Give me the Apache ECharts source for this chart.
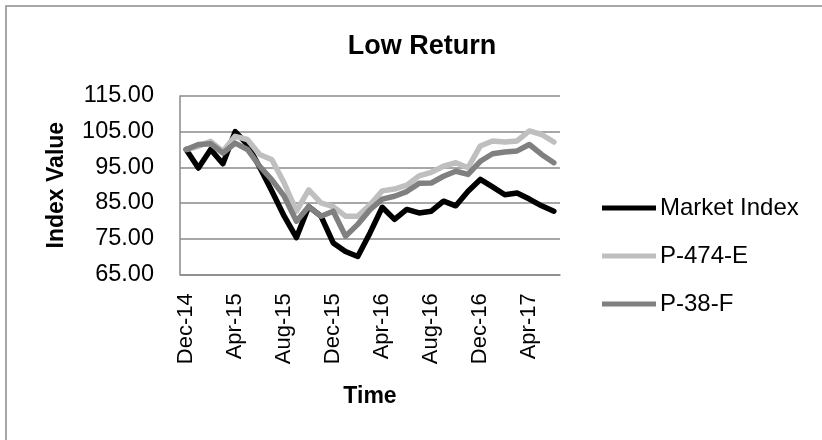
<!DOCTYPE html>
<html>
<head>
<meta charset="utf-8">
<script src="https://cdn.jsdelivr.net/npm/echarts@6/dist/echarts.min.js"></script>
<style>html,body{margin:0;padding:0;background:#fff;}#c{width:822px;height:440px;}</style>
</head>
<body>
<div id="c"></div>
<script>
var categories = ['Dec-14','Jan-15','Feb-15','Mar-15','Apr-15','May-15','Jun-15','Jul-15','Aug-15','Sep-15','Oct-15','Nov-15',
  'Dec-15','Jan-16','Feb-16','Mar-16','Apr-16','May-16','Jun-16','Jul-16','Aug-16','Sep-16','Oct-16','Nov-16',
  'Dec-16','Jan-17','Feb-17','Mar-17','Apr-17','May-17','Jun-17'];
var marketIndex = [100, 94.8, 100, 96, 105, 101.4, 95, 88.3, 81.3, 75.3, 84, 81.3,
  73.8, 71.4, 70, 76.6, 83.8, 80.4, 83.2, 82.2, 82.7, 85.5, 84.2, 88.3,
  91.6, 89.5, 87.3, 87.8, 86.1, 84.2, 82.7];
var p474E = [100, 100.9, 102.3, 99.5, 103.7, 102.8, 98.6, 97.1, 90.6, 82.7, 88.7, 85,
  84, 81.3, 81.3, 84.5, 88.4, 88.9, 90, 92.6, 93.6, 95.3, 96.3, 94.9,
  101, 102.4, 102.1, 102.4, 105.2, 104.2, 102.1];
var p38F = [100, 101.4, 101.6, 99, 101.8, 100, 95.3, 91.5, 86.9, 79.9, 84, 81.3,
  82.7, 75.7, 79, 83.1, 86.1, 86.9, 88.2, 90.5, 90.6, 92.5, 93.9, 93,
  96.7, 98.8, 99.3, 99.6, 101.4, 98.6, 96.3];
var yTicks = [65, 75, 85, 95, 105, 115];

var chart = echarts.init(document.getElementById('c'), null, {renderer: 'canvas'});
var font = 'Liberation Sans, Arial, sans-serif';
function line(name, data, color) {
  return {name: name, type: 'line', data: data, showSymbol: false, symbol: 'none', smooth: false,
    lineStyle: {color: color, width: 5.5, cap: 'round', join: 'round'}, itemStyle: {color: color}, animation: false};
}
chart.setOption({
  animation: false,
  graphic: [{type: 'rect', shape: {x: 6, y: 6, width: 900, height: 600}, style: {fill: 'none', stroke: '#8a8a8a', lineWidth: 1.5}, silent: true}],
  title: {text: 'Low Return', left: 417, top: 28, textAlign: 'center',
    textStyle: {fontFamily: font, fontWeight: 'bold', fontSize: 27, color: '#000'}},
  grid: {left: 180, right: 262, top: 96, bottom: 165.7, containLabel: false},
  legend: {orient: 'vertical', left: 597, top: 191, itemWidth: 54, itemHeight: 5, itemGap: 24, icon: 'rect',
    textStyle: {fontFamily: font, fontSize: 24, color: '#000', padding: [0,0,0,-1]},
    data: ['Market Index', 'P-474-E', 'P-38-F']},
  xAxis: {type: 'category', data: categories, boundaryGap: true,
    name: 'Time', nameLocation: 'middle', nameGap: 111,
    nameTextStyle: {fontFamily: font, fontWeight: 'bold', fontSize: 23, color: '#000'},
    axisLine: {lineStyle: {color: '#8a8a8a', width: 1.5}}, axisTick: {show: false},
    axisLabel: {interval: 3, rotate: 90, margin: 19, fontFamily: font, fontSize: 22, color: '#000'},
    splitLine: {show: false}},
  yAxis: {type: 'value', min: yTicks[0], max: yTicks[yTicks.length-1], interval: 10,
    name: 'Index Value', nameLocation: 'middle', nameGap: 112,
    nameTextStyle: {fontFamily: font, fontWeight: 'bold', fontSize: 23, color: '#000'},
    axisLine: {show: true, lineStyle: {color: '#8a8a8a', width: 1.5}}, axisTick: {show: false},
    axisLabel: {margin: 26, fontFamily: font, fontSize: 23.5, color: '#000', formatter: function(v){return v.toFixed(2);}},
    splitLine: {lineStyle: {color: '#8a8a8a', width: 1.5}}},
  series: [line('Market Index', marketIndex, '#000000'), line('P-474-E', p474E, '#bfbfbf'), line('P-38-F', p38F, '#808080')]
});
</script>
</body>
</html>
